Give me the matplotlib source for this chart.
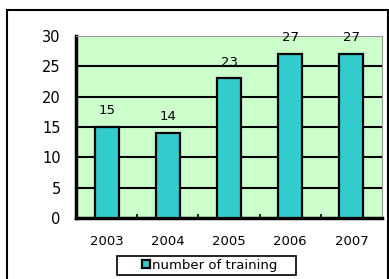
import numpy as np
import matplotlib.pyplot as plt
from matplotlib.patches import Rectangle

years = ['2003', '2004', '2005', '2006', '2007']
training = [15, 14, 23, 27, 27]
yticks = [0, 5, 10, 15, 20, 25, 30]

W, H = 389, 279
fig = plt.figure(figsize=(W / 100, H / 100), dpi=100)
fig.patch.set_facecolor('white')

# outer chart border (bottom edge runs off the picture)
fig.patches.append(Rectangle((7 / W, -0.05), (W - 8) / W, 0.05 + (H - 10) / H,
                             transform=fig.transFigure, fill=False,
                             edgecolor='black', linewidth=1.5))

ax = fig.add_axes([76 / W, (H - 218) / H, 306 / W, 182 / H])
ax.set_facecolor('#ccffcc')

x = np.arange(len(years))
bars = ax.bar(x, training, width=0.39, color='#33cccc', edgecolor='black',
              linewidth=1.6, zorder=3, label='number of training')

for xi, v in zip(x, training):
    ax.text(xi, v + 1.6, str(v), ha='center', va='bottom', fontsize=9.5)

ax.set_xlim(-0.5, len(years) - 0.5)
ax.set_ylim(0, 30)
ax.set_yticks(yticks)
ax.set_xticks(x)
ax.set_xticklabels(years)
ax.set_xticks(x[:-1] + 0.5, minor=True)
ax.tick_params(axis='x', which='major', length=0, pad=12, labelsize=9.5)
ax.tick_params(axis='x', which='minor', length=3, width=1.2, direction='in')
ax.tick_params(axis='y', length=0, pad=11, labelsize=10.5)

# black gridlines only inside the plot area
for yv in yticks[1:-1]:
    ax.axhline(yv, color='black', linewidth=1.5, zorder=1)

for s in ['top', 'right']:
    ax.spines[s].set_color('#999999')
    ax.spines[s].set_linewidth(0.8)
ax.spines['left'].set_linewidth(2.5)
ax.spines['bottom'].set_linewidth(2.5)

# legend: entries centred in a wide box
fig.patches.append(Rectangle((117 / W, (H - 275) / H), 179 / W, 19 / H,
                             transform=fig.transFigure, facecolor='white',
                             edgecolor='black', linewidth=1.2))
leg = fig.legend(handles=[bars], labels=['number of training'],
                 loc='center', bbox_to_anchor=(210 / W, (H - 265.5) / H),
                 fontsize=9.5, frameon=False,
                 handlelength=0.55, handleheight=0.55, handletextpad=0.2,
                 borderpad=0.1, borderaxespad=0)

fig.savefig('out.png', dpi=100)
